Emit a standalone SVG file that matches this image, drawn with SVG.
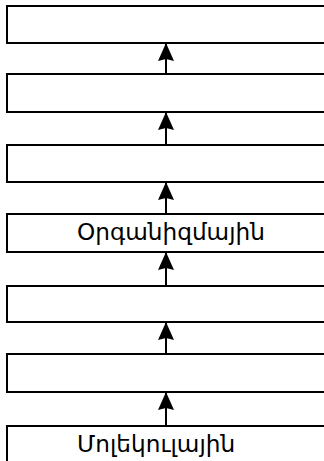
<svg xmlns="http://www.w3.org/2000/svg" width="324" height="461" viewBox="0 0 324 461">
<style>
.box{fill:#fff;stroke:#000;stroke-width:2}
.lbl{font-family:"DejaVu Sans","Noto Sans",sans-serif;font-size:23.2px;fill:#000}
.conn{stroke:#000;stroke-width:2;fill:none}
</style>
<defs>
<marker id="ah" markerWidth="18" markerHeight="16" refX="18" refY="8" orient="auto" markerUnits="userSpaceOnUse" viewBox="0 0 18 16">
<path d="M0,0 L18,8 L0,16 L2,8 Z" fill="#000"/>
</marker>
</defs>
<rect width="324" height="461" fill="#fff"/>
<g id="n1"><rect class="box" x="7" y="6" width="330" height="37"/></g>
<g id="n2"><rect class="box" x="7" y="74" width="330" height="38"/></g>
<g id="n3"><rect class="box" x="7" y="145" width="330" height="37"/></g>
<g id="n4"><rect class="box" x="7" y="214" width="330" height="38"/><text class="lbl" x="77" y="240">Օրգանիզմային</text></g>
<g id="n5"><rect class="box" x="7" y="286" width="330" height="36"/></g>
<g id="n6"><rect class="box" x="7" y="354" width="330" height="38"/></g>
<g id="n7"><rect class="box" x="7" y="426" width="330" height="50"/><text class="lbl" x="77" y="452">Մոլեկուլային</text></g>
<g id="connectors">
<line class="conn" x1="166" y1="74" x2="166" y2="43" marker-end="url(#ah)"/>
<line class="conn" x1="166" y1="145" x2="166" y2="112" marker-end="url(#ah)"/>
<line class="conn" x1="166" y1="214" x2="166" y2="182" marker-end="url(#ah)"/>
<line class="conn" x1="166" y1="286" x2="166" y2="252" marker-end="url(#ah)"/>
<line class="conn" x1="166" y1="354" x2="166" y2="322" marker-end="url(#ah)"/>
<line class="conn" x1="166" y1="426" x2="166" y2="392" marker-end="url(#ah)"/>
</g>
</svg>
